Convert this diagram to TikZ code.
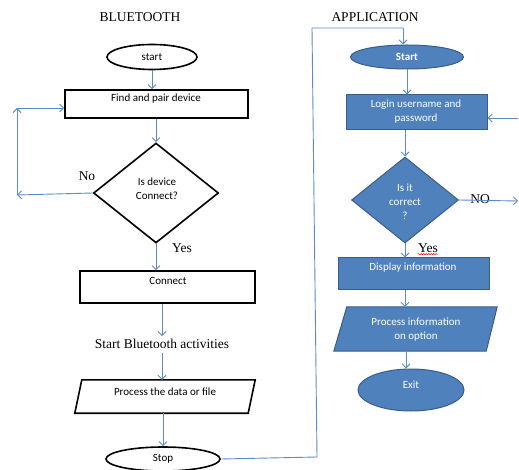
\documentclass[tikz,border=0pt]{standalone}
\usepackage{fontspec}
\setmainfont{Liberation Serif}
\newfontfamily\cf{Carlito}
\usetikzlibrary{shapes.geometric,arrows.meta,calc,decorations.pathmorphing}
\definecolor{arrc}{HTML}{5B8CC8}
\definecolor{bfill}{HTML}{4F81BD}
\definecolor{bdraw}{HTML}{385D8A}
\tikzset{
  arr/.style={draw=arrc, line width=0.9pt, -{Straight Barb[length=4pt,width=8pt]}},
  ln/.style={draw=arrc, line width=0.9pt},
  blk/.style={draw=black, line width=1.6pt, fill=white, inner sep=0pt},
  blu/.style={draw=bdraw, line width=1pt, fill=bfill, inner sep=0pt},
  ctext/.style={font=\cf\fontsize{11}{13}\selectfont, inner sep=0pt, align=center},
  wtext/.style={ctext, text=white},
  stext/.style={font=\fontsize{13.5}{15}\selectfont, inner sep=0pt},
}
\begin{document}
\begin{tikzpicture}[x=1pt,y=-1pt]
\useasboundingbox (0,0) rectangle (519,470);
% titles
\node[stext] (tBT) at (140,17) {BLUETOOTH};
\node[stext] (tAP) at (375,17) {APPLICATION};
% ---------------- Bluetooth column
\node[blk, ellipse, minimum width=90, minimum height=25] (bstart) at (152,57) {};
\node[ctext] (tbstart) at (152,57) {start};
\node[blk, rectangle, minimum width=183, minimum height=28] (find) at (156.5,104) {};
\node[ctext] (tfind) at (156,99) {Find and pair device};
\node[blk, diamond, minimum width=125, minimum height=100] (dev) at (156,193) {};
\node[ctext] (tdev) at (157,189) {Is device\\[1pt]Connect?};
\node[stext] (tNo) at (87,176) {No};
\node[stext] (tYes1) at (182,248) {Yes};
\node[blk, rectangle, minimum width=175, minimum height=32] (conn) at (167.5,287) {};
\node[ctext] (tconn) at (168,281) {Connect};
\node[stext] (tsba) at (162,344) {Start Bluetooth activities};
\node[inner sep=0pt, minimum width=180, minimum height=33] (proc) at (165,396.5) {};
\draw[black, line width=1.6pt, fill=white] ([xshift=7pt]proc.north west) -- (proc.north east) -- ([xshift=-7pt]proc.south east) -- (proc.south west) -- cycle;
\node[ctext] (tproc) at (165,392) {Process the data or file};
\node[blk, ellipse, minimum width=114, minimum height=24] (bstop) at (163,459) {};
\node[ctext] (tbstop) at (163,459) {Stop};
% connectors
\draw[arr] (bstart.south) -- (find.north -| bstart.south);
\draw[arr] (find.south -| dev.north) -- (dev.north);
\draw[arr] (dev.south) -- (conn.north -| dev.south);
\coordinate (cL1) at (17,195);
\coordinate (cL2) at (17,108);
\draw[arr] (dev.west) -- (cL1);
\draw[arr] (cL1) -- (cL2);
\draw[arr] (cL2) -- (cL2 -| find.west);
\draw[arr] (conn.south -| tsba.north) -- ([yshift=3pt]tsba.north);
\draw[arr] ([yshift=-4pt]tsba.south) -- (proc.north -| tsba.south);
\draw[arr] (proc.south -| bstop.north) -- (bstop.north);
% ---------------- Application column
\node[blu, ellipse, minimum width=113, minimum height=24] (astart) at (407,57) {};
\node[wtext, font=\cf\bfseries\fontsize{11}{13}\selectfont] (tastart) at (407,57) {Start};
\node[blu, rectangle, minimum width=141, minimum height=35] (login) at (416.5,112.5) {};
\node[wtext] (tlogin) at (416,112) {Login username and\\[1pt]password};
\node[blu, diamond, minimum width=107, minimum height=86] (corr) at (405,200) {};
\node[wtext] (tcorr) at (405,202) {Is it\\[1pt]correct\\[1pt]?};
\node[stext] (tNO) at (480,199) {NO};
\node[stext] (tYes2) at (428,248) {Yes};
\draw[red, line width=0.5pt, decorate, decoration={snake, amplitude=0.6pt, segment length=2.5pt}] ([yshift=-1.5pt]tYes2.south west) -- ([yshift=-1.5pt]tYes2.south east);
\node[blu, rectangle, minimum width=151, minimum height=31] (disp) at (413.5,273.5) {};
\node[wtext] (tdisp) at (413,268) {Display information};
\node[inner sep=0pt, minimum width=163, minimum height=44] (pinfo) at (415.5,329) {};
\draw[bdraw, line width=1pt, fill=bfill] ([xshift=13pt]pinfo.north west) -- (pinfo.north east) -- ([xshift=-11pt]pinfo.south east) -- (pinfo.south west) -- cycle;
\node[wtext] (tpinfo) at (416,330) {Process information\\[1pt]on option};
\node[blu, ellipse, minimum width=106, minimum height=42] (exit) at (411,390) {};
\node[wtext] (texit) at (411,385) {Exit};
% connectors
\draw[arr] (astart.south) -- (login.north -| astart.south);
\draw[arr] (login.south -| corr.north) -- (corr.north);
\draw[arr] (corr.south) -- (disp.north -| corr.south);
\draw[arr] (disp.south -| corr.south) -- (pinfo.north -| corr.south);
\draw[arr] (pinfo.south -| 406,0) -- (exit.north -| 406,0);
\coordinate (cR1) at (518,118);
\draw[arr] (cR1) -- (cR1 -| login.east);
\coordinate (cR2) at (518,201);
\draw[arr] (corr.east) -- (cR2);
% link from Stop to Start
\coordinate (k1) at (317,457);
\coordinate (k2) at (312,28);
\coordinate (k3) at (403,28);
\draw[ln] (bstop.east) -- (k1) -- (k2) -- (k3);
\draw[arr] (k3) -- (astart.north -| k3);
\end{tikzpicture}
\end{document}
